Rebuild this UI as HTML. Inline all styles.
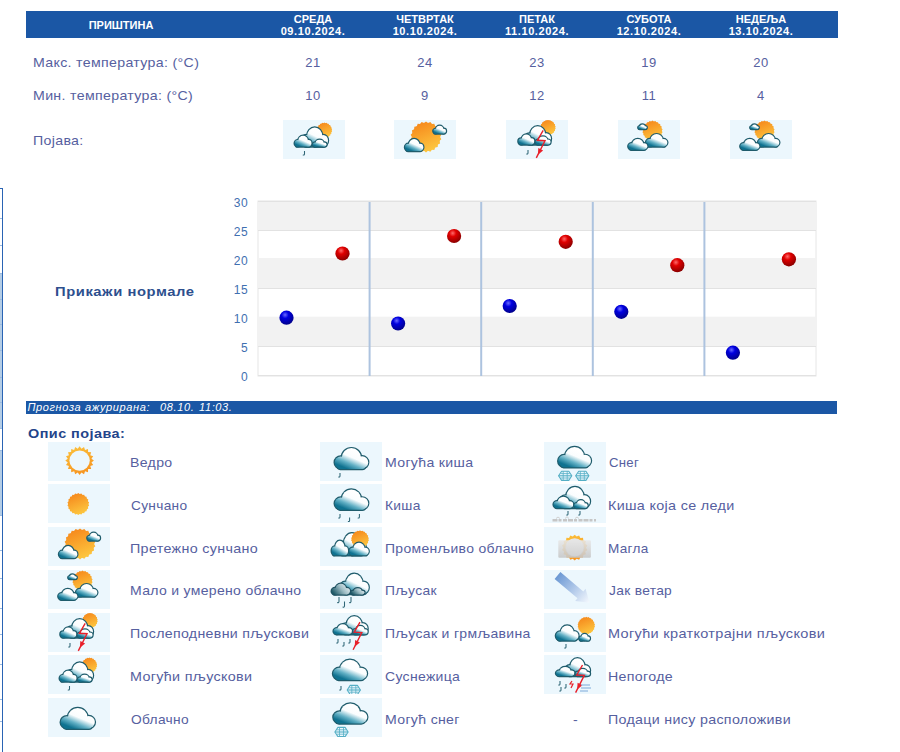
<!DOCTYPE html>
<html><head><meta charset="utf-8">
<style>
*{margin:0;padding:0;box-sizing:border-box}
html,body{width:900px;height:752px;background:#fff;overflow:hidden}
body{position:relative;font-family:"Liberation Sans",sans-serif;color:#5660a0}
.a{position:absolute;white-space:nowrap}
.hdr{left:26px;top:11px;width:812px;height:27px;background:#1b57a5}
.ht{color:#fff;font-weight:bold;font-size:11px;line-height:12px;text-align:center;width:112px}
.lbl{font-size:13px;letter-spacing:0.3px;line-height:15px;transform:scaleX(1.09);transform-origin:0 0}
.val{font-size:13px;line-height:15px;text-align:center;width:112px;letter-spacing:0.6px}
.ib{width:62px;height:39px;background:#ecf7fd}
.yl{font-size:12px;line-height:14px;color:#3f6fb0;text-align:right;width:30px;letter-spacing:0.4px}
.ub{top:400.5px;color:#fff;font-size:11px;font-style:italic;line-height:13px;letter-spacing:0.62px}
.lt{font-size:13px;letter-spacing:0.3px;line-height:15px;transform:scaleX(1.09);transform-origin:0 0}
</style></head><body>
<!-- header bar -->
<div class="a hdr"></div>
<div class="a ht" style="left:65px;top:19px">ПРИШТИНА</div>
<div class="a ht" style="left:257px;top:13px">СРЕДА<br><span style="letter-spacing:.6px">09.10.2024.</span></div>
<div class="a ht" style="left:369px;top:13px">ЧЕТВРТАК<br><span style="letter-spacing:.6px">10.10.2024.</span></div>
<div class="a ht" style="left:481px;top:13px">ПЕТАК<br><span style="letter-spacing:.6px">11.10.2024.</span></div>
<div class="a ht" style="left:593px;top:13px">СУБОТА<br><span style="letter-spacing:.6px">12.10.2024.</span></div>
<div class="a ht" style="left:705px;top:13px">НЕДЕЉА<br><span style="letter-spacing:.6px">13.10.2024.</span></div>

<!-- rows -->
<div class="a lbl" style="left:33px;top:55px">Макс. температура: (°C)</div>
<div class="a lbl" style="left:33px;top:88px">Мин. температура: (°C)</div>
<div class="a lbl" style="left:33px;top:133px">Појава:</div>
<div class="a val" style="left:257px;top:55px">21</div>
<div class="a val" style="left:369px;top:55px">24</div>
<div class="a val" style="left:481px;top:55px">23</div>
<div class="a val" style="left:593px;top:55px">19</div>
<div class="a val" style="left:705px;top:55px">20</div>
<div class="a val" style="left:257px;top:88px">10</div>
<div class="a val" style="left:369px;top:88px">9</div>
<div class="a val" style="left:481px;top:88px">12</div>
<div class="a val" style="left:593px;top:88px">11</div>
<div class="a val" style="left:705px;top:88px">4</div>

<!-- left border -->
<div class="a" style="left:1.5px;top:187.5px;width:1.6px;height:565px;background:#2a64b4;z-index:2"></div><div class="a" style="left:0;top:187.5px;width:3px;height:1.2px;background:#2a64b4"></div>

<div class="a" style="left:0;top:273px;width:1.5px;height:155px;background:#b4cde6"></div>
<div class="a" style="left:0;top:450px;width:1.5px;height:65px;background:#b4cde6"></div>
<div class="a" style="left:0;top:218px;width:2px;height:1px;background:#9dbbe0"></div>
<div class="a" style="left:0;top:245px;width:2px;height:1px;background:#9dbbe0"></div>
<div class="a" style="left:0;top:273px;width:2px;height:1px;background:#9dbbe0"></div>
<div class="a" style="left:0;top:299px;width:2px;height:1px;background:#9dbbe0"></div>
<div class="a" style="left:0;top:324px;width:2px;height:1px;background:#9dbbe0"></div>
<div class="a" style="left:0;top:350px;width:2px;height:1px;background:#9dbbe0"></div>
<div class="a" style="left:0;top:377px;width:2px;height:1px;background:#9dbbe0"></div>
<div class="a" style="left:0;top:402px;width:2px;height:1px;background:#9dbbe0"></div>
<div class="a" style="left:0;top:428px;width:2px;height:1px;background:#9dbbe0"></div>
<div class="a" style="left:0;top:450px;width:2px;height:1px;background:#9dbbe0"></div>
<div class="a" style="left:0;top:515px;width:2px;height:1px;background:#9dbbe0"></div>
<div class="a" style="left:0;top:550px;width:2px;height:1px;background:#9dbbe0"></div>
<div class="a" style="left:0;top:578px;width:2px;height:1px;background:#9dbbe0"></div>
<div class="a" style="left:0;top:608px;width:2px;height:1px;background:#9dbbe0"></div>
<div class="a" style="left:0;top:634px;width:2px;height:1px;background:#9dbbe0"></div>
<div class="a" style="left:0;top:664px;width:2px;height:1px;background:#9dbbe0"></div>
<div class="a" style="left:0;top:699px;width:2px;height:1px;background:#9dbbe0"></div>
<div class="a" style="left:0;top:721px;width:2px;height:1px;background:#9dbbe0"></div>
<!-- chart -->
<svg class="a" style="left:0;top:0" width="900" height="400">
  <g>
    <rect x="258" y="201" width="558" height="175" fill="#fff" stroke="#e6e6e6" stroke-width="1"/>
    <rect x="258" y="201" width="558" height="29.2" fill="#f2f2f2"/>
    <rect x="258" y="258" width="558" height="30.5" fill="#f2f2f2"/>
    <rect x="258" y="316.7" width="558" height="30.3" fill="#f2f2f2"/>
    <g stroke="#e2e2e2" stroke-width="1">
      <line x1="258" y1="201.5" x2="816" y2="201.5"/>
      <line x1="258" y1="230.5" x2="816" y2="230.5"/>
            <line x1="258" y1="288.5" x2="816" y2="288.5"/>
            <line x1="258" y1="346.5" x2="816" y2="346.5"/>
      <line x1="258" y1="375.5" x2="816" y2="375.5"/>
    </g>
    <g stroke="#adc3df" stroke-width="2">
      <line x1="369.6" y1="202" x2="369.6" y2="376"/>
      <line x1="481.2" y1="202" x2="481.2" y2="376"/>
      <line x1="592.8" y1="202" x2="592.8" y2="376"/>
      <line x1="704.4" y1="202" x2="704.4" y2="376"/>
    </g>
  </g>
  <defs>
    <radialGradient id="rb" cx="0.4" cy="0.3" r="0.7">
      <stop offset="0" stop-color="#ff6a6a"/><stop offset="0.35" stop-color="#e00000"/><stop offset="1" stop-color="#8a0000"/>
    </radialGradient>
    <radialGradient id="bb" cx="0.4" cy="0.3" r="0.7">
      <stop offset="0" stop-color="#6a6aff"/><stop offset="0.35" stop-color="#0000e0"/><stop offset="1" stop-color="#00008a"/>
    </radialGradient>
  </defs>
  <g>
    <circle cx="342.5" cy="253.5" r="7.1" fill="url(#rb)"/>
    <circle cx="454.1" cy="236" r="7.1" fill="url(#rb)"/>
    <circle cx="565.7" cy="241.8" r="7.1" fill="url(#rb)"/>
    <circle cx="677.3" cy="265.2" r="7.1" fill="url(#rb)"/>
    <circle cx="788.9" cy="259.3" r="7.1" fill="url(#rb)"/>
    <circle cx="286.5" cy="317.7" r="7.1" fill="url(#bb)"/>
    <circle cx="398.1" cy="323.5" r="7.1" fill="url(#bb)"/>
    <circle cx="509.7" cy="306" r="7.1" fill="url(#bb)"/>
    <circle cx="621.3" cy="311.8" r="7.1" fill="url(#bb)"/>
    <circle cx="732.9" cy="352.7" r="7.1" fill="url(#bb)"/>
  </g>
</svg>
<div class="a yl" style="left:218px;top:196px">30</div>
<div class="a yl" style="left:218px;top:225px">25</div>
<div class="a yl" style="left:218px;top:254px">20</div>
<div class="a yl" style="left:218px;top:283px">15</div>
<div class="a yl" style="left:218px;top:312px">10</div>
<div class="a yl" style="left:218px;top:341px">5</div>
<div class="a yl" style="left:218px;top:370px">0</div>

<div class="a" style="left:55px;top:284px;font-size:13px;font-weight:bold;color:#2d4f8e;letter-spacing:0.5px;transform:scaleX(1.135);transform-origin:0 0;line-height:15px">Прикажи нормале</div>

<!-- updated bar -->
<div class="a" style="left:26px;top:401px;width:811px;height:12.5px;background:#1b57a5"></div>
<div class="a ub" style="left:27.5px">Прогноза ажурирана:</div><div class="a ub" style="left:160px">08.10.</div><div class="a ub" style="left:199px">11:03.</div>

<div class="a" style="left:28px;top:426px;font-size:13px;font-weight:bold;color:#23448a;letter-spacing:0.4px;transform:scaleX(1.11);transform-origin:0 0;line-height:15px">Опис појава:</div>

<!-- legend -->
<div class="a lt" style="left:130.2px;top:455.2px;transform:scaleX(1.0847)">Ведро</div>
<div class="a lt" style="left:131.2px;top:497.9px;transform:scaleX(1.0524)">Сунчано</div>
<div class="a lt" style="left:130.2px;top:540.7px;transform:scaleX(1.0996)">Претежно сунчано</div>
<div class="a lt" style="left:130.2px;top:583.4px;transform:scaleX(1.0773)">Мало и умерено облачно</div>
<div class="a lt" style="left:130.2px;top:626.1px;transform:scaleX(1.0900)">Послеподневни пљускови</div>
<div class="a lt" style="left:130.2px;top:668.9px;transform:scaleX(1.1028)">Могући пљускови</div>
<div class="a lt" style="left:131.2px;top:711.6px;transform:scaleX(1.0567)">Облачно</div>
<div class="a lt" style="left:384.5px;top:455.2px;transform:scaleX(1.0850)">Могућа киша</div>
<div class="a lt" style="left:384.5px;top:497.9px;transform:scaleX(1.0597)">Киша</div>
<div class="a lt" style="left:384.5px;top:540.7px;transform:scaleX(1.0726)">Променљиво облачно</div>
<div class="a lt" style="left:384.5px;top:583.4px;transform:scaleX(1.0627)">Пљусак</div>
<div class="a lt" style="left:384.5px;top:626.1px;transform:scaleX(1.0758)">Пљусак и грмљавина</div>
<div class="a lt" style="left:384.5px;top:668.9px;transform:scaleX(1.0769)">Суснежица</div>
<div class="a lt" style="left:384.5px;top:711.6px;transform:scaleX(1.0841)">Могућ снег</div>
<div class="a lt" style="left:609.3px;top:455.2px;transform:scaleX(1.0117)">Снег</div>
<div class="a lt" style="left:608.3px;top:497.9px;transform:scaleX(1.1033)">Киша која се леди</div>
<div class="a lt" style="left:608.3px;top:540.7px;transform:scaleX(1.0421)">Магла</div>
<div class="a lt" style="left:609.3px;top:583.4px;transform:scaleX(1.0593)">Јак ветар</div>
<div class="a lt" style="left:608.3px;top:626.1px;transform:scaleX(1.1144)">Могући краткотрајни пљускови</div>
<div class="a lt" style="left:608.3px;top:668.9px;transform:scaleX(1.0917)">Непогоде</div>
<div class="a lt" style="left:608.3px;top:711.6px;transform:scaleX(1.0936)">Подаци нису расположиви</div>
<div class="a lt" style="left:573px;top:711.6px">-</div>
<svg width="0" height="0" style="position:absolute;left:0;top:0">
<defs>
<linearGradient id="cg" gradientUnits="userSpaceOnUse" x1="23" y1="4" x2="15" y2="23">
 <stop offset="0" stop-color="#ffffff"/><stop offset="0.36" stop-color="#fafdfe"/><stop offset="0.7" stop-color="#62b0c5"/><stop offset="1" stop-color="#0f7290"/>
</linearGradient>
<linearGradient id="cgd" gradientUnits="userSpaceOnUse" x1="30" y1="4" x2="6" y2="23">
 <stop offset="0" stop-color="#d9e6ea"/><stop offset="0.4" stop-color="#9dbcc4"/><stop offset="1" stop-color="#1f5a68"/>
</linearGradient>
<linearGradient id="sg" x1="0.3" y1="0" x2="0.7" y2="1">
 <stop offset="0" stop-color="#f68a1d"/><stop offset="1" stop-color="#fdc840"/>
</linearGradient>
<linearGradient id="rg" x1="0.3" y1="0" x2="0.7" y2="1">
 <stop offset="0" stop-color="#fbbf3a"/><stop offset="1" stop-color="#f7921f"/>
</linearGradient>
<linearGradient id="fg" x1="0" y1="0" x2="0" y2="1">
 <stop offset="0" stop-color="#e8e8e8"/><stop offset="1" stop-color="#c6c6c6"/>
</linearGradient>
<linearGradient id="wg" gradientUnits="userSpaceOnUse" x1="13" y1="5" x2="45" y2="32">
 <stop offset="0" stop-color="#6a97d3"/><stop offset="0.45" stop-color="#a6c1e6"/><stop offset="1" stop-color="#f2f7fd"/>
</linearGradient>
<g id="cs">
 <circle cx="18.2" cy="10.5" r="10.5" vector-effect="non-scaling-stroke"/>
 <circle cx="6.6" cy="15.6" r="6.6" vector-effect="non-scaling-stroke"/>
 <circle cx="29.9" cy="15.4" r="6.6" vector-effect="non-scaling-stroke"/>
 <rect x="3" y="12" width="30" height="10.7" rx="3" vector-effect="non-scaling-stroke"/>
</g>
<g id="cl"><use href="#cs" fill="#1f5c6c" stroke="#1f5c6c" stroke-width="2.4"/><use href="#cs" fill="url(#cg)"/></g>
<g id="cld"><use href="#cs" fill="#1f5262" stroke="#1f5262" stroke-width="2.4"/><use href="#cs" fill="url(#cgd)"/></g>
<g id="sun"><polygon points="0.00,-1.10 0.14,-0.99 0.31,-1.06 0.42,-0.91 0.59,-0.93 0.65,-0.76 0.83,-0.72 0.84,-0.54 1.00,-0.46 0.96,-0.28 1.09,-0.16 1.00,-0.00 1.09,0.16 0.96,0.28 1.00,0.46 0.84,0.54 0.83,0.72 0.65,0.76 0.59,0.93 0.42,0.91 0.31,1.06 0.14,0.99 0.00,1.10 -0.14,0.99 -0.31,1.06 -0.42,0.91 -0.59,0.93 -0.65,0.76 -0.83,0.72 -0.84,0.54 -1.00,0.46 -0.96,0.28 -1.09,0.16 -1.00,0.00 -1.09,-0.16 -0.96,-0.28 -1.00,-0.46 -0.84,-0.54 -0.83,-0.72 -0.65,-0.76 -0.59,-0.93 -0.42,-0.91 -0.31,-1.06 -0.14,-0.99" fill="url(#sg)"/><circle r="1.0" fill="url(#sg)"/></g>
<path id="dr" d="M0,0 V3 Q0,4.4 -1.7,4" fill="none" stroke="#2f6676" stroke-width="1.05"/>
<g id="bolt" fill="none" stroke="#e8202a" stroke-width="1.4" stroke-linejoin="miter">
 <polyline points="0,0 -5.8,10 1.8,10.4 -6.9,27.6"/>
 <polygon points="-5.3,24.5 -0.1,20.2 -4.9,17.7" fill="#e8202a" stroke="none"/>
</g>
<g id="fl" fill="none" stroke="#55afc5" stroke-width="1.1">
 <path d="M-3.6,-4.6 H3.6 L6.6,0 L3.6,4.6 H-3.6 L-6.6,0 Z" stroke-linejoin="round"/><line x1="-6.6" y1="0" x2="6.6" y2="0"/>
 <path d="M-2,-4.6 V4.6 M2,-4.6 V4.6 M-4.5,-2.2 H4.5 M-4.5,2.2 H4.5" stroke-width="0.8"/>
</g>
</defs></svg>
<svg class="a" style="left:283px;top:120px" width="62" height="39" viewBox="0 0 62 39"><rect width="62" height="39" fill="#ecf7fd"/><use href="#sun" transform="translate(41.4,10.3) scale(7.091)"/><use href="#cl" transform="translate(18.50,7.50) scale(0.7260,0.8414)"/><use href="#cl" transform="translate(11.70,15.80) scale(0.4603,0.4758)"/><use href="#cl" transform="translate(29.80,19.80) scale(0.3753,0.2996)"/><use href="#dr" x="21.5" y="31"/></svg>
<svg class="a" style="left:394px;top:120px" width="62" height="39" viewBox="0 0 62 39"><rect width="62" height="39" fill="#ecf7fd"/><use href="#sun" transform="translate(32,16.9) scale(14.091)"/><use href="#cl" transform="translate(39.30,5.80) scale(0.3479,0.3392)"/><use href="#cl" transform="translate(11.00,19.00) scale(0.5014,0.5286)"/></svg>
<svg class="a" style="left:506px;top:120px" width="62" height="39" viewBox="0 0 62 39"><rect width="62" height="39" fill="#ecf7fd"/><use href="#sun" transform="translate(42,7.6) scale(7.091)"/><use href="#cl" transform="translate(18.50,6.20) scale(0.7260,0.8062)"/><use href="#cl" transform="translate(12.40,14.40) scale(0.4356,0.4449)"/><use href="#cl" transform="translate(29.50,16.50) scale(0.4110,0.3524)"/><use href="#dr" x="22" y="30"/><use href="#bolt" transform="translate(37.2,10.3) scale(1)"/></svg>
<svg class="a" style="left:618px;top:120px" width="62" height="39" viewBox="0 0 62 39"><rect width="62" height="39" fill="#ecf7fd"/><use href="#sun" transform="translate(34.5,10.8) scale(9.273)"/><use href="#cl" transform="translate(20.30,4.40) scale(0.2301,0.2026)"/><use href="#cl" transform="translate(28.00,14.10) scale(0.5836,0.5507)"/><use href="#cl" transform="translate(10.30,19.00) scale(0.5205,0.4714)"/></svg>
<svg class="a" style="left:730px;top:120px" width="62" height="39" viewBox="0 0 62 39"><rect width="62" height="39" fill="#ecf7fd"/><use href="#sun" transform="translate(34.5,10.8) scale(9.273)"/><use href="#cl" transform="translate(20.30,4.40) scale(0.2301,0.2026)"/><use href="#cl" transform="translate(28.00,14.10) scale(0.5836,0.5507)"/><use href="#cl" transform="translate(10.30,19.00) scale(0.5205,0.4714)"/></svg>
<svg class="a" style="left:47.5px;top:441.7px" width="62" height="39" viewBox="0 0 62 39"><rect width="62" height="39" fill="#ecf7fd"/><polygon points="31.60,4.30 33.48,6.75 36.02,5.00 37.05,7.91 40.01,7.03 40.09,10.11 43.17,10.19 42.29,13.15 45.20,14.18 43.45,16.72 45.90,18.60 43.45,20.48 45.20,23.02 42.29,24.05 43.17,27.01 40.09,27.09 40.01,30.17 37.05,29.29 36.02,32.20 33.48,30.45 31.60,32.90 29.72,30.45 27.18,32.20 26.15,29.29 23.19,30.17 23.11,27.09 20.03,27.01 20.91,24.05 18.00,23.02 19.75,20.48 17.30,18.60 19.75,16.72 18.00,14.18 20.91,13.15 20.03,10.19 23.11,10.11 23.19,7.03 26.15,7.91 27.18,5.00 29.72,6.75" fill="url(#rg)"/><circle cx="31.6" cy="18.6" r="10.2" fill="#ecf7fd"/></svg>
<svg class="a" style="left:47.5px;top:484.4px" width="62" height="39" viewBox="0 0 62 39"><rect width="62" height="39" fill="#ecf7fd"/><use href="#sun" transform="translate(30.3,20) scale(10.000)"/></svg>
<svg class="a" style="left:47.5px;top:527.2px" width="62" height="39" viewBox="0 0 62 39"><rect width="62" height="39" fill="#ecf7fd"/><use href="#sun" transform="translate(32,16.9) scale(14.091)"/><use href="#cl" transform="translate(39.30,5.80) scale(0.3479,0.3392)"/><use href="#cl" transform="translate(11.00,19.00) scale(0.5014,0.5286)"/></svg>
<svg class="a" style="left:47.5px;top:569.9px" width="62" height="39" viewBox="0 0 62 39"><rect width="62" height="39" fill="#ecf7fd"/><use href="#sun" transform="translate(34.5,10.8) scale(9.273)"/><use href="#cl" transform="translate(20.30,4.40) scale(0.2301,0.2026)"/><use href="#cl" transform="translate(28.00,14.10) scale(0.5836,0.5507)"/><use href="#cl" transform="translate(10.30,19.00) scale(0.5205,0.4714)"/></svg>
<svg class="a" style="left:47.5px;top:612.6px" width="62" height="39" viewBox="0 0 62 39"><rect width="62" height="39" fill="#ecf7fd"/><use href="#sun" transform="translate(42,7.6) scale(7.091)"/><use href="#cl" transform="translate(18.50,6.20) scale(0.7260,0.8062)"/><use href="#cl" transform="translate(12.40,14.40) scale(0.4356,0.4449)"/><use href="#cl" transform="translate(29.50,16.50) scale(0.4110,0.3524)"/><use href="#dr" x="22" y="30"/><use href="#bolt" transform="translate(37.2,10.3) scale(1)"/></svg>
<svg class="a" style="left:47.5px;top:655.3px" width="62" height="39" viewBox="0 0 62 39"><rect width="62" height="39" fill="#ecf7fd"/><use href="#sun" transform="translate(41.4,10.3) scale(7.091)"/><use href="#cl" transform="translate(18.50,7.50) scale(0.7260,0.8414)"/><use href="#cl" transform="translate(11.70,15.80) scale(0.4603,0.4758)"/><use href="#cl" transform="translate(29.80,19.80) scale(0.3753,0.2996)"/><use href="#dr" x="21.5" y="31"/></svg>
<svg class="a" style="left:47.5px;top:698.1px" width="62" height="39" viewBox="0 0 62 39"><rect width="62" height="39" fill="#ecf7fd"/><use href="#cl" transform="translate(12.70,10.00) scale(0.9370,0.9119)"/></svg>
<svg class="a" style="left:320px;top:441.7px" width="62" height="39" viewBox="0 0 62 39"><rect width="62" height="39" fill="#ecf7fd"/><use href="#cl" transform="translate(14.70,6.10) scale(0.9178,0.9207)"/><use href="#dr" x="20" y="31"/></svg>
<svg class="a" style="left:320px;top:484.4px" width="62" height="39" viewBox="0 0 62 39"><rect width="62" height="39" fill="#ecf7fd"/><use href="#cl" transform="translate(14.70,5.50) scale(0.9178,0.8943)"/><use href="#dr" x="20" y="30"/><use href="#dr" x="29.6" y="33.5"/><use href="#dr" x="39.4" y="30"/></svg>
<svg class="a" style="left:320px;top:527.2px" width="62" height="39" viewBox="0 0 62 39"><rect width="62" height="39" fill="#ecf7fd"/><use href="#cl" transform="translate(18.00,6.20) scale(0.7671,0.9736)"/><use href="#sun" transform="translate(40,12.3) scale(8.182)"/><use href="#cl" transform="translate(11.70,13.80) scale(0.4466,0.6388)"/><use href="#cl" transform="translate(29.30,15.80) scale(0.5315,0.5507)"/></svg>
<svg class="a" style="left:320px;top:569.9px" width="62" height="39" viewBox="0 0 62 39"><rect width="62" height="39" fill="#ecf7fd"/><use href="#cl" transform="translate(20.00,3.80) scale(0.7863,0.8899)"/><use href="#cld" transform="translate(11.70,13.80) scale(0.5014,0.4714)"/><use href="#cld" transform="translate(31.00,18.20) scale(0.3699,0.2775)"/><path d="M19,27 v4.6 q0,1.4 -1.9,1" fill="none" stroke="#2f6676" stroke-width="1.05"/><path d="M24.5,31.5 v4.6 q0,1.4 -1.9,1" fill="none" stroke="#2f6676" stroke-width="1.05"/><path d="M31,27 v4.6 q0,1.4 -1.9,1" fill="none" stroke="#2f6676" stroke-width="1.05"/></svg>
<svg class="a" style="left:320px;top:612.6px" width="62" height="39" viewBox="0 0 62 39"><rect width="62" height="39" fill="#ecf7fd"/><use href="#cl" transform="translate(21.00,3.30) scale(0.7288,0.7930)"/><use href="#cl" transform="translate(13.60,11.30) scale(0.5041,0.4405)"/><use href="#cl" transform="translate(33.00,13.00) scale(0.4000,0.3656)"/><use href="#dr" x="18" y="26"/><use href="#dr" x="24" y="29"/><use href="#dr" x="30" y="26"/><use href="#bolt" transform="translate(40,9.2) scale(1)"/></svg>
<svg class="a" style="left:320px;top:655.3px" width="62" height="39" viewBox="0 0 62 39"><rect width="62" height="39" fill="#ecf7fd"/><use href="#cl" transform="translate(13.00,4.80) scale(0.9315,0.8899)"/><use href="#dr" x="21" y="31"/><use href="#fl" x="33.8" y="35"/></svg>
<svg class="a" style="left:320px;top:698.1px" width="62" height="39" viewBox="0 0 62 39"><rect width="62" height="39" fill="#ecf7fd"/><use href="#cl" transform="translate(13.40,5.50) scale(0.9288,0.8811)"/><use href="#fl" x="21.5" y="34"/></svg>
<svg class="a" style="left:544px;top:441.7px" width="62" height="39" viewBox="0 0 62 39"><rect width="62" height="39" fill="#ecf7fd"/><use href="#cl" transform="translate(14.20,5.00) scale(0.8986,0.8943)"/><use href="#fl" x="21.2" y="33.8"/><use href="#fl" x="38.3" y="33.8"/></svg>
<svg class="a" style="left:544px;top:484.4px" width="62" height="39" viewBox="0 0 62 39"><rect width="62" height="39" fill="#ecf7fd"/><use href="#cl" transform="translate(16.00,3.00) scale(0.8219,0.9251)"/><use href="#cl" transform="translate(9.60,12.80) scale(0.5370,0.4934)"/><use href="#cl" transform="translate(30.20,16.20) scale(0.3671,0.3436)"/><use href="#dr" x="24" y="27"/><use href="#dr" x="36" y="27"/><path d="M8.5,36.3 H52" fill="none" stroke="#c6c6c6" stroke-width="2.4" stroke-dasharray="5 1 3 1.5 4 1"/><path d="M12,34.5 l2,-1.5 l2,1.5 M21,34.5 l2,-1.8 l2,1.8 M31,34.5 l2,-1.5 l2,1.5" fill="none" stroke="#d0d0d0" stroke-width="1"/></svg>
<svg class="a" style="left:544px;top:527.2px" width="62" height="39" viewBox="0 0 62 39"><rect width="62" height="39" fill="#ecf7fd"/><polygon points="30.70,7.80 32.66,9.57 35.11,8.58 36.35,10.91 38.99,10.82 39.36,13.44 41.87,14.25 41.32,16.84 43.40,18.46 42.00,20.70 43.40,22.94 41.32,24.56 41.87,27.15 39.36,27.96 38.99,30.58 36.35,30.49 35.11,32.82 32.66,31.83 30.70,33.60 28.74,31.83 26.29,32.82 25.05,30.49 22.41,30.58 22.04,27.96 19.53,27.15 20.08,24.56 18.00,22.94 19.40,20.70 18.00,18.46 20.08,16.84 19.53,14.25 22.04,13.44 22.41,10.82 25.05,10.91 26.29,8.58 28.74,9.57" fill="url(#rg)"/><circle cx="30.7" cy="20.7" r="9.4" fill="url(#fg)"/><rect x="14.3" y="13.2" width="32.6" height="17.6" rx="1" fill="url(#fg)" opacity="0.88"/><circle cx="30.7" cy="20.7" r="8.6" fill="#e2e2e2" opacity="0.35"/></svg>
<svg class="a" style="left:544px;top:569.9px" width="62" height="39" viewBox="0 0 62 39"><rect width="62" height="39" fill="#ecf7fd"/><polygon points="16.4,2.1 39.3,21.5 41.6,18.8 45.5,32.7 31.2,31.0 33.5,28.3 10.6,8.9" fill="url(#wg)"/></svg>
<svg class="a" style="left:544px;top:612.6px" width="62" height="39" viewBox="0 0 62 39"><rect width="62" height="39" fill="#ecf7fd"/><use href="#sun" transform="translate(42.3,12.6) scale(8.000)"/><use href="#cl" transform="translate(35.30,21.00) scale(0.2904,0.2907)"/><use href="#cl" transform="translate(11.90,12.40) scale(0.6192,0.6696)"/><use href="#dr" x="22" y="31"/></svg>
<svg class="a" style="left:544px;top:655.3px" width="62" height="39" viewBox="0 0 62 39"><rect width="62" height="39" fill="#ecf7fd"/><use href="#cl" transform="translate(21.00,3.30) scale(0.6849,0.7797)"/><use href="#cl" transform="translate(12.00,12.00) scale(0.5068,0.3965)"/><use href="#cl" transform="translate(31.50,14.00) scale(0.3973,0.3084)"/><use href="#dr" x="16" y="26"/><use href="#dr" x="22" y="29"/><use href="#dr" x="17" y="32"/><use href="#bolt" transform="translate(38.5,10) scale(1)"/><g stroke="#8fb6e0" stroke-width="1.2"><line x1="37" y1="30" x2="46" y2="30"/><line x1="37" y1="33" x2="47" y2="33"/><line x1="36" y1="36" x2="44" y2="36"/></g><path d="M28,26 l-2,3 3,0 -2,4" fill="none" stroke="#e8202a" stroke-width="1.2"/></svg>
</body></html>
